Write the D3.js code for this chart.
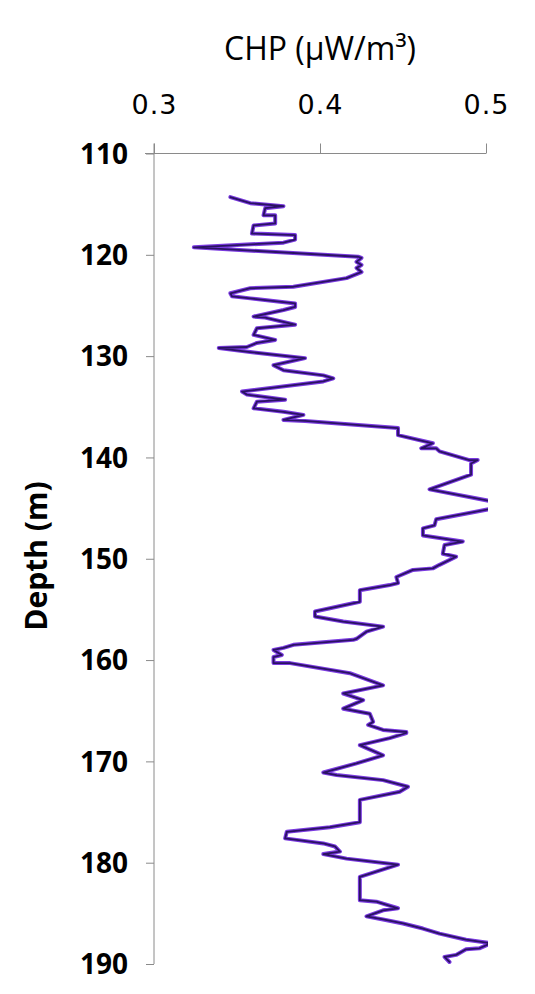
<!DOCTYPE html>
<html>
<head>
<meta charset="utf-8">
<script src="https://cdn.jsdelivr.net/npm/d3@7/dist/d3.min.js"></script>
<style>
  html, body { margin: 0; padding: 0; background: #fff; }
  svg { display: block; }
</style>
</head>
<body>
<script>
// ---- data ----
const depth = [114.3,114.9,115.2,115.4,116.1,116.1,116.9,117.1,117.9,118.05,118.5,118.8,119.26,120.19,120.3,120.7,121.0,121.3,121.7,122.3,123.15,123.3,123.8,124.1,124.3,124.8,125.15,125.45,126.1,126.2,126.9,127.25,127.9,128.4,128.7,129.1,129.2,129.6,130.2,130.9,131.4,131.9,132.2,132.5,133.5,133.8,134.3,134.5,135.15,135.5,135.8,136.3,136.4,137.1,137.8,138.6,139.1,139.1,139.4,140.26,140.26,140.6,141.7,143.15,144.7,146.1,146.7,147.0,147.7,148.3,148.65,149.5,149.8,150.6,150.95,151.1,151.8,152.4,152.6,153.1,154.25,155.2,155.7,156.2,156.7,157.2,157.9,158.0,158.5,158.8,159.0,159.5,159.7,160.3,160.3,161.3,162.5,163.3,163.95,164.8,165.3,166.1,166.4,166.9,167.1,167.2,167.7,168.4,169.4,170.2,171.1,171.35,171.85,172.5,173.0,173.8,176.0,176.5,176.95,177.6,178.1,178.4,178.9,179.15,179.6,180.2,181.4,183.7,183.85,184.5,184.7,185.3,185.6,186.0,186.5,187.0,187.6,187.95,188.45,188.55,189.1,189.3,189.8];
const chp = [0.346,0.358,0.378,0.367,0.366,0.373,0.373,0.360,0.359,0.385,0.385,0.378,0.324,0.423,0.425,0.422,0.425,0.422,0.425,0.416,0.384,0.358,0.346,0.347,0.358,0.385,0.385,0.378,0.360,0.367,0.385,0.362,0.360,0.373,0.362,0.356,0.339,0.358,0.391,0.372,0.378,0.402,0.408,0.402,0.353,0.356,0.379,0.362,0.360,0.378,0.390,0.378,0.391,0.447,0.447,0.468,0.461,0.470,0.472,0.490,0.495,0.491,0.491,0.466,0.515,0.470,0.469,0.462,0.462,0.486,0.475,0.474,0.482,0.472,0.468,0.456,0.446,0.447,0.442,0.424,0.424,0.397,0.397,0.414,0.438,0.428,0.422,0.420,0.384,0.378,0.372,0.377,0.372,0.372,0.382,0.418,0.438,0.414,0.426,0.414,0.430,0.432,0.429,0.438,0.452,0.452,0.442,0.424,0.438,0.422,0.402,0.410,0.438,0.453,0.448,0.424,0.424,0.406,0.380,0.379,0.402,0.409,0.412,0.402,0.416,0.447,0.424,0.424,0.434,0.447,0.438,0.428,0.438,0.450,0.462,0.472,0.488,0.503,0.496,0.488,0.482,0.475,0.478];
const xTicks = [0.3, 0.4, 0.5];
const yTicks = [110, 120, 130, 140, 150, 160, 170, 180, 190];
const xTitle = "CHP (μW/m³)";
const yTitle = "Depth (m)";

// ---- layout ----
const W = 535, H = 994;
const svg = d3.select("body").append("svg").attr("width", W).attr("height", H);

const x = d3.scaleLinear().domain([0.3, 0.5]).range([154, 486]);
const y = d3.scaleLinear().domain([110, 190]).range([153.5, 964]);

const axisColor = "#8a8a8a";

// top axis
const gx = svg.append("g").attr("transform", "translate(0,153.5)")
  .call(d3.axisTop(x).tickValues(xTicks).tickSize(10).tickSizeOuter(0).tickFormat(d3.format(".1f")));
gx.select(".domain").attr("stroke", axisColor).attr("d", `M${x(0.3)-9},0H${x(0.5)}`);
gx.selectAll(".tick line").attr("stroke", axisColor);
gx.selectAll(".tick text")
  .attr("y", -40)
  .attr("dy", 0)
  .attr("fill", "#000")
  .style("font-family", "'DejaVu Sans', sans-serif")
  .style("font-size", "27px")
  .style("letter-spacing", "1px");

// left axis
const gy = svg.append("g").attr("transform", "translate(154,0)")
  .call(d3.axisLeft(y).tickValues(yTicks).tickSize(8).tickSizeOuter(0));
gy.select(".domain").attr("stroke", axisColor).attr("d", `M0,${y(110)-10}V${y(190)}`);
gy.selectAll(".tick line").attr("stroke", axisColor);
gy.selectAll(".tick text")
  .attr("x", -26)
  .attr("dy", "0.35em")
  .attr("fill", "#000")
  .style("font-family", "'Open Sans', sans-serif")
  .style("font-weight", "bold")
  .style("font-size", "28px");

// titles
svg.append("text").attr("x", 320).attr("y", 60).attr("text-anchor", "middle")
  .attr("fill", "#000")
  .style("font-family", "'Open Sans', sans-serif").style("font-size", "32px")
  .text(xTitle);
svg.append("text").attr("transform", "translate(47,556) rotate(-90)").attr("text-anchor", "middle")
  .attr("fill", "#000")
  .style("font-family", "'Open Sans', sans-serif").style("font-weight", "bold").style("font-size", "30px")
  .text(yTitle);

// clip to plot area
svg.append("clipPath").attr("id", "plot").append("rect")
  .attr("x", x(0.3)).attr("y", y(110)).attr("width", x(0.5) - x(0.3) + 2).attr("height", y(190) - y(110));

const pts = depth.map((d, i) => [chp[i], d]);
const line = d3.line().x(p => x(p[0])).y(p => y(p[1]));

const g = svg.append("g").attr("clip-path", "url(#plot)");
g.append("path").datum(pts).attr("d", line)
  .attr("fill", "none").attr("stroke", "#7a3ae0").attr("stroke-width", 4)
  .attr("stroke-linejoin", "round").attr("stroke-linecap", "round");
g.append("path").datum(pts).attr("d", line)
  .attr("fill", "none").attr("stroke", "#2a1262").attr("stroke-width", 1.8)
  .attr("stroke-linejoin", "round").attr("stroke-linecap", "round");
</script>
</body>
</html>
